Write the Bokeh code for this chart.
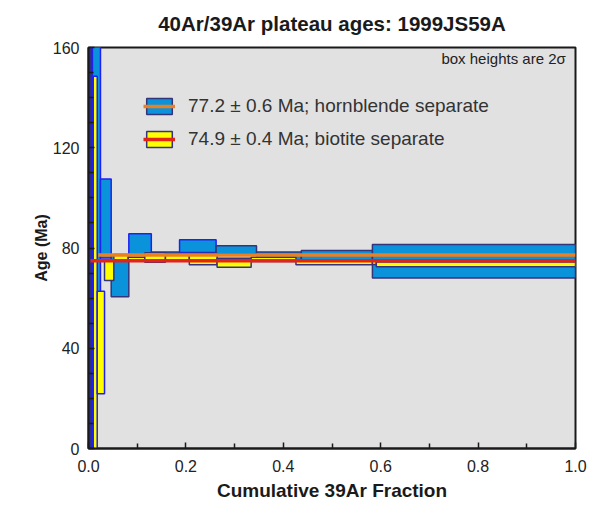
from bokeh.plotting import figure
from bokeh.models import Legend, LegendItem, Label, FixedTicker, Range1d, Title
from bokeh.embed import file_html
from bokeh.resources import INLINE

# ---- data ----
# cumulative 39Ar fraction boundaries of the heating steps
hbl_frac_bounds = [0.000, 0.008, 0.0246, 0.0466, 0.0828, 0.129, 0.187,
                   0.262, 0.345, 0.437, 0.583, 1.000]
hbl_age = [100.0, 130.0, 91.75, 68.75, 81.35, 77.4, 80.75, 79.3, 76.8, 76.35, 74.7]
hbl_2sigma = [100.0, 70.0, 15.75, 8.25, 4.35, 1.0, 2.55, 1.6, 1.6, 2.65, 6.7]

bio_frac_bounds = [0.0097, 0.0179, 0.0329, 0.052, 0.0815, 0.1156, 0.158,
                   0.207, 0.264, 0.334, 0.426, 0.583, 0.591, 1.000]
bio_age = [74.0, 42.25, 71.0, 76.35, 75.65, 76.2, 76.25, 75.6, 74.1, 75.45, 74.3, 74.2, 73.45]
bio_2sigma = [74.5, 20.45, 4.0, 1.05, 0.65, 1.9, 1.55, 2.3, 1.8, 0.85, 1.0, 0.8, 0.95]

hbl_plateau_age = 77.2
hbl_plateau_err = 0.6
hbl_plateau_start = 0.02
bio_plateau_age = 74.9
bio_plateau_err = 0.4
bio_plateau_start = 0.004

x_ticks = [0.0, 0.2, 0.4, 0.6, 0.8, 1.0]
x_tick_labels = ["0.0", "0.2", "0.4", "0.6", "0.8", "1.0"]
x_minor_ticks = [0.1, 0.3, 0.5, 0.7, 0.9]
y_ticks = [0, 40, 80, 120, 160]
y_minor_ticks = [10, 20, 30, 50, 60, 70, 90, 100, 110, 130, 140, 150]

TITLE = "40Ar/39Ar plateau ages: 1999JS59A"

# ---- styles ----
FONT = "Liberation Sans"
BLUE = "#0a93db"
YELLOW = "#ffff00"
BRIGHT_EDGE = "#2020f0"
DARK_EDGE = "#34347a"
ORANGE = "#ec8020"
RED = "#e2231a"

n_h = len(hbl_age)
n_b = len(bio_age)
hbl_fill = ["#2b2f8a"] + [BLUE] * (n_h - 1)
hbl_edge = [BRIGHT_EDGE, BRIGHT_EDGE, BRIGHT_EDGE, DARK_EDGE, BRIGHT_EDGE, DARK_EDGE,
            BRIGHT_EDGE] + [DARK_EDGE] * (n_h - 7)
bio_edge = [BRIGHT_EDGE, BRIGHT_EDGE] + [DARK_EDGE] * (n_b - 2)

p = figure(width=598, height=512, output_backend="svg", toolbar_location=None,
           x_range=Range1d(0, 1), y_range=Range1d(0, 160),
           min_border_left=88, min_border_right=23, min_border_top=47,
           min_border_bottom=64, title=None)
p.background_fill_color = "#e1e1e1"
p.border_fill_color = "white"
p.outline_line_color = "#1a1a1a"
p.outline_line_width = 2
p.grid.visible = False

# spacer (nearest the frame) then the real title above it
p.add_layout(Title(text=" ", text_font_size="6px", standoff=0), "above")
p.add_layout(Title(text=TITLE, align="center", text_font=FONT, text_font_size="20.5px",
                   text_font_style="bold", text_color="#1a1a1a"), "above")

hbl_r = p.quad(left=hbl_frac_bounds[:-1], right=hbl_frac_bounds[1:],
               bottom=[a - e for a, e in zip(hbl_age, hbl_2sigma)],
               top=[a + e for a, e in zip(hbl_age, hbl_2sigma)],
               fill_color=hbl_fill, line_color=hbl_edge, line_width=1.5)
bio_r = p.quad(left=bio_frac_bounds[:-1], right=bio_frac_bounds[1:],
               bottom=[a - e for a, e in zip(bio_age, bio_2sigma)],
               top=[a + e for a, e in zip(bio_age, bio_2sigma)],
               fill_color=YELLOW, line_color=bio_edge, line_width=1.5)

# plateau lines run across the plateau steps
hbl_line_x = [hbl_plateau_start] + [b for b in hbl_frac_bounds if b > hbl_plateau_start]
bio_line_x = [bio_plateau_start] + [b for b in bio_frac_bounds if b > bio_plateau_start]
hbl_line = p.line(x=hbl_line_x, y=[hbl_plateau_age] * len(hbl_line_x),
                  line_color=ORANGE, line_width=3.5)
bio_line = p.line(x=bio_line_x, y=[bio_plateau_age] * len(bio_line_x),
                  line_color=RED, line_width=3.5)

legend = Legend(items=[
    LegendItem(label=f"{hbl_plateau_age:.1f} ± {hbl_plateau_err:.1f} Ma; hornblende separate",
               renderers=[hbl_r, hbl_line], index=3),
    LegendItem(label=f"{bio_plateau_age:.1f} ± {bio_plateau_err:.1f} Ma; biotite separate",
               renderers=[bio_r, bio_line], index=2),
], location=(55, 298), glyph_width=32, glyph_height=20, label_height=20, spacing=11,
    label_standoff=13, padding=0, margin=0, background_fill_alpha=0,
    border_line_color=None, label_text_font=FONT, label_text_font_size="19px",
    label_text_color="#333333")
p.add_layout(legend)

p.add_layout(Label(x=0.98, y=155.6, text="box heights are 2σ", text_align="right",
                   text_baseline="middle", text_font=FONT, text_font_size="15px",
                   text_color="#222222"))

# axes
p.xaxis.ticker = FixedTicker(ticks=x_ticks, minor_ticks=x_minor_ticks)
p.xaxis.major_label_overrides = {t: l for t, l in zip(x_ticks, x_tick_labels)}
p.yaxis.ticker = FixedTicker(ticks=y_ticks, minor_ticks=y_minor_ticks)
p.xaxis.axis_label = "Cumulative 39Ar Fraction"
p.yaxis.axis_label = "Age (Ma)"
for ax in (p.xaxis[0], p.yaxis[0]):
    ax.axis_line_color = "#1a1a1a"
    ax.axis_line_width = 2
    ax.major_tick_in = 6
    ax.major_tick_out = 0
    ax.minor_tick_in = 5
    ax.minor_tick_out = 0
    ax.major_tick_line_color = "#1a1a1a"
    ax.minor_tick_line_color = "#1a1a1a"
    ax.major_tick_line_width = 1.5
    ax.minor_tick_line_width = 1.5
    ax.major_label_text_font = FONT
    ax.major_label_text_font_size = "16px"
    ax.major_label_text_color = "#222222"
    ax.axis_label_text_font = FONT
    ax.axis_label_text_font_style = "bold"
    ax.axis_label_text_color = "#1a1a1a"
p.xaxis.major_label_standoff = 11
p.xaxis.axis_label_standoff = 5
p.xaxis.axis_label_text_font_size = "19px"
p.yaxis.major_label_standoff = 9
p.yaxis.axis_label_standoff = 0
p.yaxis.axis_label_text_font_size = "16px"

open("out.html", "w").write(file_html(p, INLINE))
